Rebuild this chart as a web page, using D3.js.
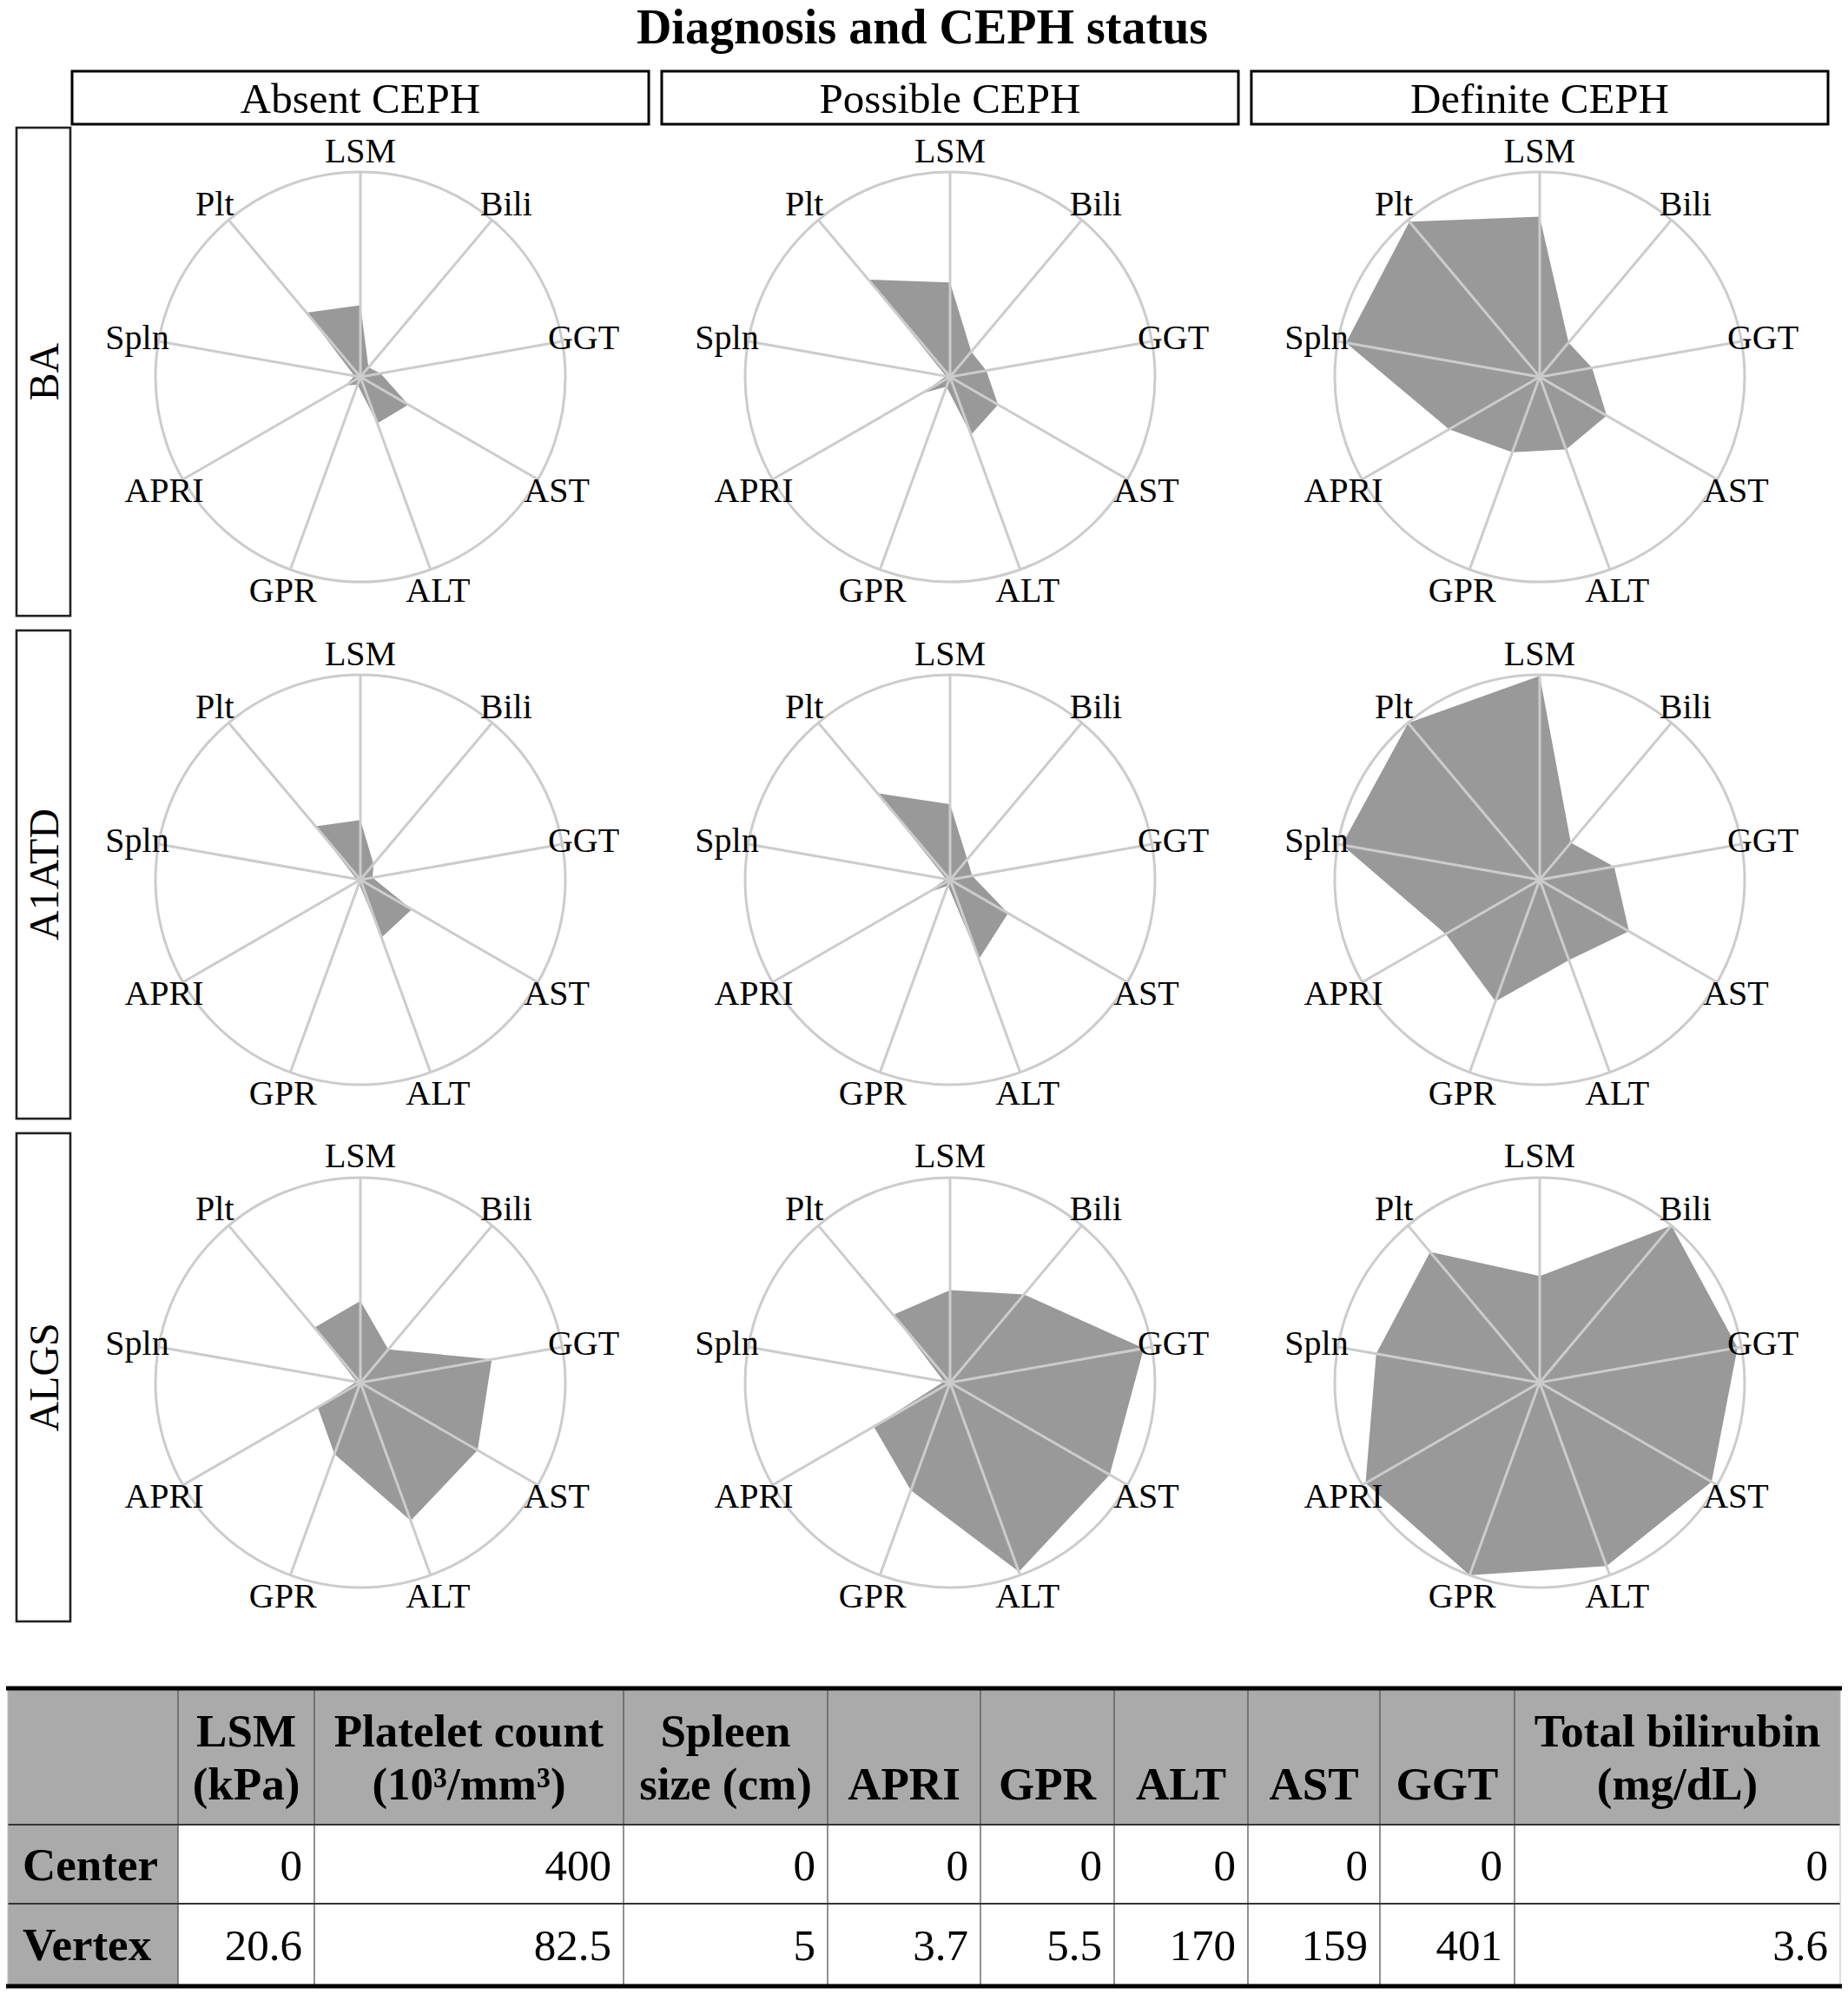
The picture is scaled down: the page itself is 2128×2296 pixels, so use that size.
<!DOCTYPE html>
<html>
<head>
<meta charset="utf-8">
<script src="https://cdn.jsdelivr.net/npm/d3@7"></script>
<style>
  html, body { margin: 0; padding: 0; background: #ffffff; }
  svg { display: block; }
</style>
</head>
<body>
<svg id="chart" width="2128" height="2296"></svg>
<script>
// ---------------- DATA ----------------
const chartTitle = "Diagnosis and CEPH status";
const diagnoses = ["BA", "A1ATD", "ALGS"];
const cephStatus = ["Absent CEPH", "Possible CEPH", "Definite CEPH"];

// variables in table order (radar axes run counter-clockwise from the top in this order)
const varKeys = ["LSM", "Plt", "Spln", "APRI", "GPR", "ALT", "AST", "GGT", "Bili"];
const centerVals = [0, 400, 0, 0, 0, 0, 0, 0, 0];
const vertexVals = [20.6, 82.5, 5, 3.7, 5.5, 170, 159, 401, 3.6];

// per-panel values (table order: LSM, Plt, Spln, APRI, GPR, ALT, AST, GGT, Bili)
const BA_absent      = [7.2, 270, 0.15, 0.30, 0.22, 41, 43, 40, 0.22];
const BA_possible    = [9.5, 203, 0.10, 0.59, 0.28, 51, 43, 72, 0.58];
const BA_definite    = [16.1, 86, 4.8, 1.89, 2.15, 64, 60, 104, 0.79];
const A1ATD_absent   = [6.0, 292, 0.10, 0.07, 0.11, 51, 46, 24, 0.36];
const A1ATD_possible = [7.6, 225, 0.10, 0.48, 0.17, 70, 52, 44, 0.47];
const A1ATD_definite = [20.5, 83, 4.9, 1.96, 3.47, 71, 80, 148, 0.85];
const ALGS_absent    = [8.2, 289, 0.10, 0.89, 2.04, 122, 105, 261, 0.76];
const ALGS_possible  = [9.3, 263, 0.15, 1.59, 3.08, 167, 143, 385, 2.02];
const ALGS_definite  = [10.7, 136, 4.05, 3.63, 5.5, 162, 154, 393, 3.6];

const panelValues = [
  [BA_absent, BA_possible, BA_definite],
  [A1ATD_absent, A1ATD_possible, A1ATD_definite],
  [ALGS_absent, ALGS_possible, ALGS_definite]
];

// table
const tableHeaders = [
  [],
  ["LSM", "(kPa)"],
  ["Platelet count", "(10\u00B3/mm\u00B3)"],
  ["Spleen", "size (cm)"],
  ["APRI"],
  ["GPR"],
  ["ALT"],
  ["AST"],
  ["GGT"],
  ["Total bilirubin", "(mg/dL)"]
];
const tableRowLabels = ["Center", "Vertex"];

// ---------------- LAYOUT ----------------
const svg = d3.select("#chart");
const serif = "'Liberation Serif','Times New Roman','DejaVu Serif',serif";

svg.append("rect").attr("width", 2128).attr("height", 2296).attr("fill", "#fff");

svg.append("text")
  .attr("x", 1062).attr("y", 50)
  .attr("text-anchor", "middle")
  .attr("font-family", serif).attr("font-weight", "bold").attr("font-size", 56)
  .text(chartTitle);

const xBand = d3.scaleBand().domain(cephStatus).range([83, 2105]).paddingInner(0.022);
const yBand = d3.scaleBand().domain(diagnoses).range([147, 1867]).paddingInner(0.029);

// column strips
cephStatus.forEach(c => {
  svg.append("rect")
    .attr("x", xBand(c)).attr("y", 82)
    .attr("width", xBand.bandwidth()).attr("height", 61)
    .attr("fill", "#fff").attr("stroke", "#000").attr("stroke-width", 3);
  svg.append("text")
    .attr("x", xBand(c) + xBand.bandwidth() / 2).attr("y", 113)
    .attr("text-anchor", "middle").attr("dominant-baseline", "central")
    .attr("font-family", serif).attr("font-size", 49)
    .text(c);
});

// row strips
diagnoses.forEach(d => {
  svg.append("rect")
    .attr("x", 19).attr("y", yBand(d))
    .attr("width", 62).attr("height", yBand.bandwidth())
    .attr("fill", "#fff").attr("stroke", "#222").attr("stroke-width", 2.6);
  const cy = yBand(d) + yBand.bandwidth() / 2;
  svg.append("text")
    .attr("transform", `translate(50,${cy}) rotate(-90)`)
    .attr("text-anchor", "middle").attr("dominant-baseline", "central")
    .attr("font-family", serif).attr("font-size", 48)
    .text(d);
});

// radar geometry
const R = 236;
const labelR = 261;
const nAxes = varKeys.length;
const angle = d3.scaleLinear().domain([0, nAxes]).range([0, -2 * Math.PI]);
const radial = varKeys.map((k, i) =>
  d3.scaleLinear().domain([centerVals[i], vertexVals[i]]).range([0, R]).clamp(true));

const lineGen = d3.lineRadial()
  .angle((d, i) => angle(i))
  .radius((d, i) => radial[i](d))
  .curve(d3.curveLinearClosed);

diagnoses.forEach((d, ri) => {
  cephStatus.forEach((c, ci) => {
    const cx = xBand(c) + xBand.bandwidth() / 2;
    const cy = yBand(d) + yBand.bandwidth() / 2 + 6;
    const g = svg.append("g").attr("transform", `translate(${cx},${cy})`);

    g.append("path")
      .attr("d", lineGen(panelValues[ri][ci]))
      .attr("fill", "#999999").attr("stroke", "none");

    g.append("circle").attr("r", R)
      .attr("fill", "none").attr("stroke", "#cccccc").attr("stroke-width", 3);

    varKeys.forEach((k, i) => {
      const a = angle(i);
      g.append("line")
        .attr("x1", 0).attr("y1", 0)
        .attr("x2", R * Math.sin(a)).attr("y2", -R * Math.cos(a))
        .attr("stroke", "#cccccc").attr("stroke-width", 3);
    });

    varKeys.forEach((k, i) => {
      const a = angle(i);
      g.append("text")
        .attr("x", labelR * Math.sin(a)).attr("y", -labelR * Math.cos(a))
        .attr("text-anchor", "middle").attr("dominant-baseline", "central")
        .attr("font-family", serif).attr("font-size", 40)
        .text(k);
    });
  });
});

// ---------------- TABLE ----------------
const colEdges = [9, 205, 362, 718, 953, 1129, 1283, 1437, 1589, 1744, 2119];
const rowEdges = [1944, 2101, 2192, 2287];
const tg = svg.append("g");

tg.append("rect")
  .attr("x", colEdges[0]).attr("y", rowEdges[0])
  .attr("width", colEdges[10] - colEdges[0]).attr("height", rowEdges[1] - rowEdges[0])
  .attr("fill", "#aaaaaa");
tg.append("rect")
  .attr("x", colEdges[0]).attr("y", rowEdges[1])
  .attr("width", colEdges[1] - colEdges[0]).attr("height", rowEdges[3] - rowEdges[1])
  .attr("fill", "#aaaaaa");

colEdges.slice(1, -1).forEach(x => {
  tg.append("line")
    .attr("x1", x).attr("x2", x).attr("y1", rowEdges[0]).attr("y2", rowEdges[3])
    .attr("stroke", "#555").attr("stroke-width", 1.3);
});
[rowEdges[1], rowEdges[2]].forEach(y => {
  tg.append("line")
    .attr("x1", colEdges[0]).attr("x2", colEdges[10]).attr("y1", y).attr("y2", y)
    .attr("stroke", "#333").attr("stroke-width", 2);
});
[colEdges[0], colEdges[10]].forEach(x => {
  tg.append("line")
    .attr("x1", x).attr("x2", x).attr("y1", rowEdges[0]).attr("y2", rowEdges[3])
    .attr("stroke", "#bbb").attr("stroke-width", 1);
});
[rowEdges[0], rowEdges[3]].forEach(y => {
  tg.append("line")
    .attr("x1", colEdges[0] - 2).attr("x2", colEdges[10] + 2).attr("y1", y).attr("y2", y)
    .attr("stroke", "#000").attr("stroke-width", 5);
});

tableHeaders.forEach((lines, i) => {
  const cx = (colEdges[i] + colEdges[i + 1]) / 2;
  const baselines = lines.length === 2 ? [2011, 2072] : [2072];
  lines.forEach((t, j) => {
    tg.append("text")
      .attr("x", cx).attr("y", baselines[j])
      .attr("text-anchor", "middle")
      .attr("font-family", serif).attr("font-weight", "bold").attr("font-size", 53)
      .text(t);
  });
});

const rowBaselines = [2165, 2257];
[centerVals, vertexVals].forEach((vals, r) => {
  tg.append("text")
    .attr("x", 26).attr("y", rowBaselines[r])
    .attr("font-family", serif).attr("font-weight", "bold").attr("font-size", 53)
    .text(tableRowLabels[r]);
  vals.forEach((v, i) => {
    tg.append("text")
      .attr("x", colEdges[i + 2] - 14).attr("y", rowBaselines[r])
      .attr("text-anchor", "end")
      .attr("font-family", serif).attr("font-size", 51)
      .text(String(v));
  });
});
</script>
</body>
</html>
